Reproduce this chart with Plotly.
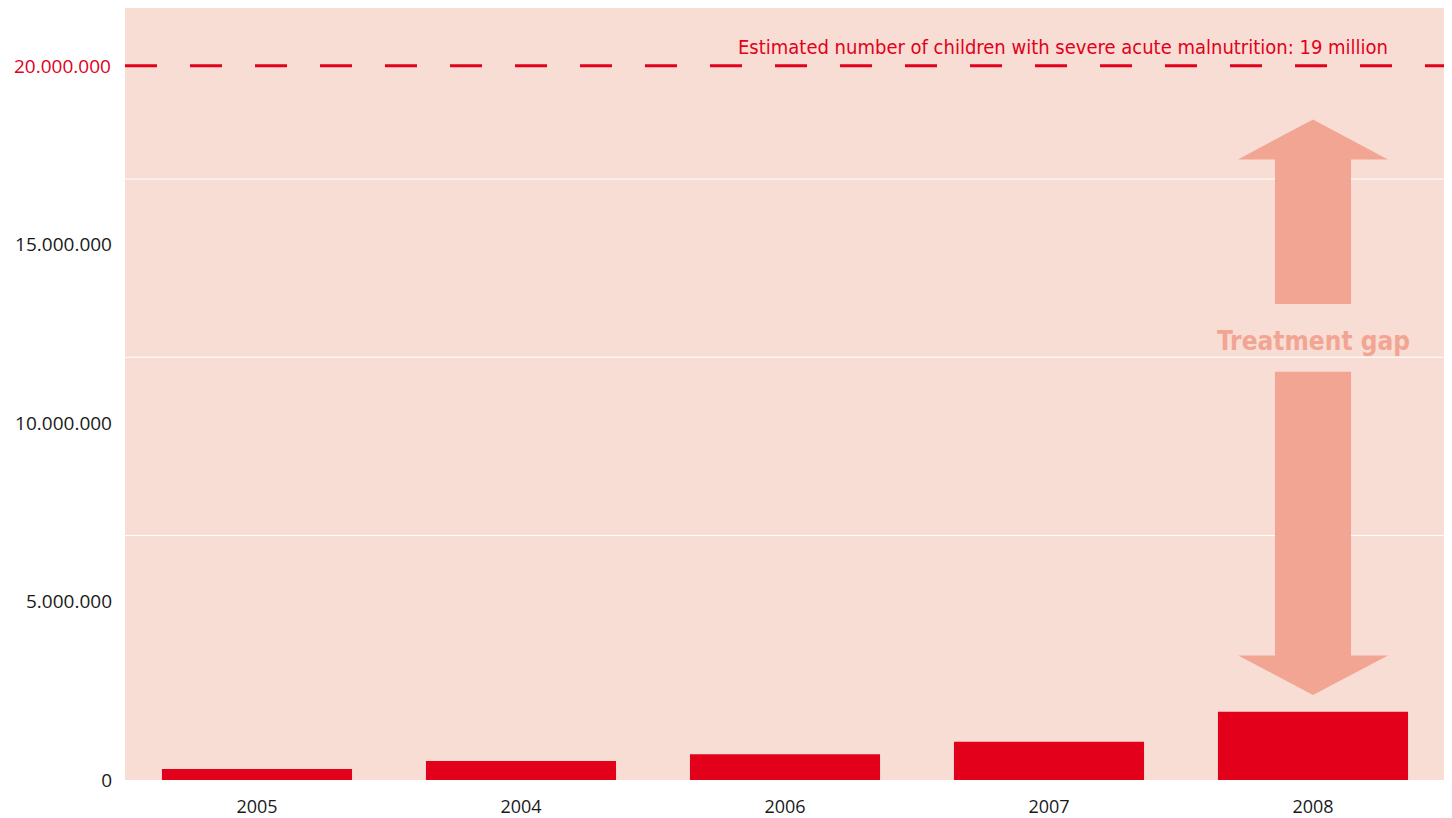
import plotly.graph_objects as go

# Data
years = ["2005", "2004", "2006", "2007", "2008"]
children_treated = [310000, 530000, 720000, 1070000, 1910000]
estimated_sam = 20000000
line_label = "Estimated number of children with severe acute malnutrition: 19 million"
y_tickvals = [0, 5000000, 10000000, 15000000]
y_ticktext = ["0", "5.000.000", "10.000.000", "15.000.000"]
grid_vals = [6850000, 11840000, 16830000]

RED = "#e2001a"
BG = "#f8ddd4"
ARROW = "#f2a593"
TXT = "#1a1a1a"

fig = go.Figure()
fig.add_trace(go.Bar(x=years, y=children_treated, marker=dict(color=RED, line=dict(width=0)),
                     width=0.72, hoverinfo="skip"))

# dashed target line
fig.add_shape(type="line", xref="paper", yref="y", x0=0, x1=1, y0=estimated_sam, y1=estimated_sam,
              line=dict(color=RED, width=3, dash="32px,33px"), layer="above")

# decorative white grid lines
for g in grid_vals:
    fig.add_shape(type="line", xref="paper", yref="y", x0=0, x1=1, y0=g, y1=g,
                  line=dict(color="#ffffff", width=1), layer="below")

# double arrow over the last bar (category index)
idx = len(years) - 1
last = children_treated[-1]
hw_head, hw_shaft = 0.284, 0.144
top_tip = 18500000
top_base = 17380000
top_end = 13330000
bot_start = 11430000
bot_base = 3490000
bot_tip = last + 470000

def path(pts):
    return "M " + " L ".join(f"{x},{y}" for x, y in pts) + " Z"

up = [(idx, top_tip), (idx + hw_head, top_base), (idx + hw_shaft, top_base), (idx + hw_shaft, top_end),
      (idx - hw_shaft, top_end), (idx - hw_shaft, top_base), (idx - hw_head, top_base)]
down = [(idx, bot_tip), (idx + hw_head, bot_base), (idx + hw_shaft, bot_base), (idx + hw_shaft, bot_start),
        (idx - hw_shaft, bot_start), (idx - hw_shaft, bot_base), (idx - hw_head, bot_base)]
for p in (up, down):
    fig.add_shape(type="path", xref="x", yref="y", path=path(p), fillcolor=ARROW,
                  line=dict(width=0), layer="above")

fig.add_annotation(x=idx, y=12300000, xref="x", yref="y", text="<b>Treatment gap</b>", showarrow=False,
                   font=dict(family="DejaVu Sans Condensed", size=26, color=ARROW))

fig.add_annotation(x=0.958, xref="paper", xanchor="right", y=estimated_sam, yref="y", yanchor="bottom",
                   yshift=5, text=line_label, showarrow=False,
                   font=dict(family="DejaVu Sans Condensed", size=20, color=RED))

# red 20M label
fig.add_annotation(x=0, xref="paper", xanchor="right", xshift=-12, y=estimated_sam, yref="y",
                   text="20.000.000", showarrow=False,
                   font=dict(family="Open Sans", size=19, color=RED))

fig.update_layout(
    width=1444, height=810,
    margin=dict(l=117, r=7, t=0, b=30),
    paper_bgcolor="#ffffff", plot_bgcolor=BG,
    showlegend=False,
    font=dict(family="Open Sans", size=18, color=TXT),
)
fig.update_xaxes(showgrid=False, zeroline=False, showline=False, ticks="", ticklabelstandoff=14,
                 tickfont=dict(family="Open Sans", size=18, color=TXT))
fig.update_yaxes(range=[0, 21620000], tickvals=y_tickvals, ticktext=y_ticktext, showgrid=False,
                 zeroline=False, showline=False, ticks="", ticklabelstandoff=12,
                 tickfont=dict(family="Open Sans", size=19, color=TXT))

fig.write_html("out.html")
